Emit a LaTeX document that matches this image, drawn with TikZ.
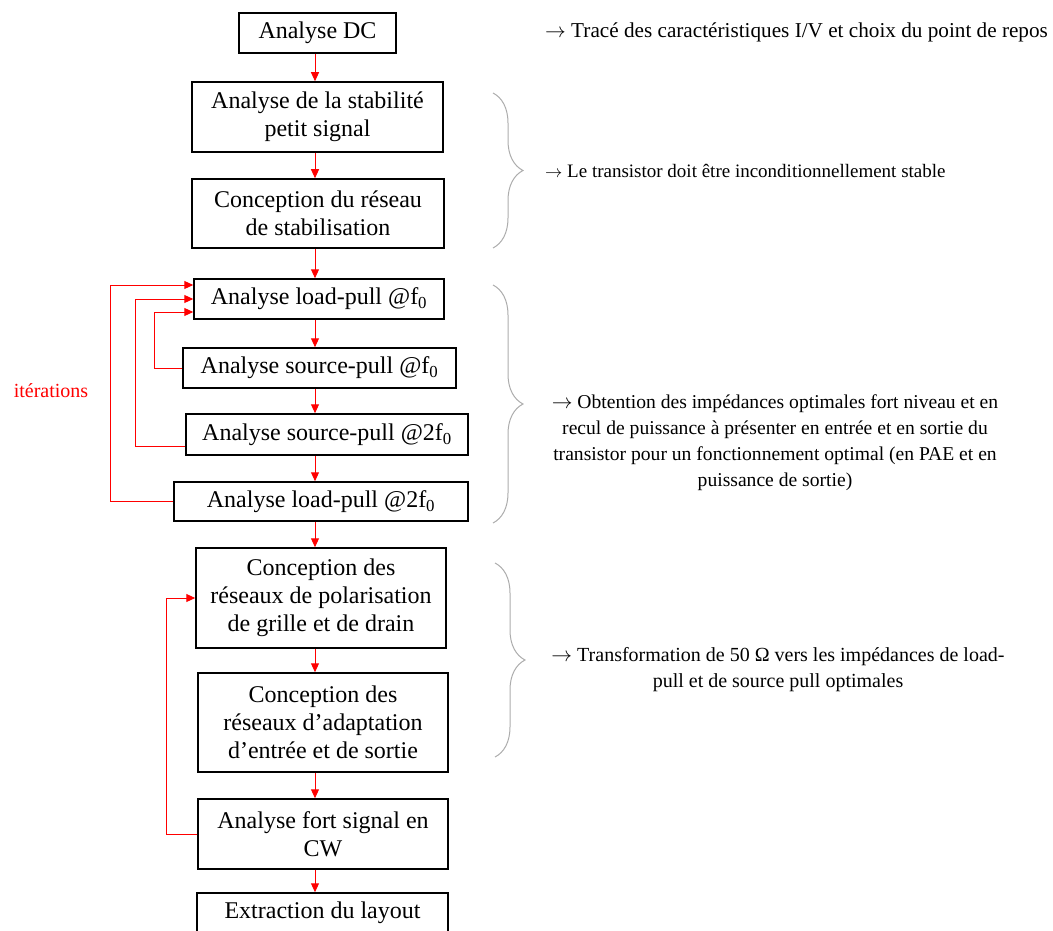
\documentclass[tikz,border=0pt]{standalone}
\usepackage{fontspec}
\setmainfont{Liberation Serif}
\usetikzlibrary{arrows.meta,decorations.pathreplacing}

\begin{document}
\begin{tikzpicture}[x=1pt,y=-1pt]
        \tikzset{box/.style = {draw, line width=1.5pt, align=center, inner sep=0pt, font=\fontsize{24}{28}\selectfont}}
        \tikzset{edge/.style = {-{Triangle[length=9pt,width=8pt]}, red, line width=1pt}}
        \tikzset{note/.style = {font=\fontsize{19}{26}\selectfont, align=center, inner sep=0pt}}
        \tikzset{bracket/.style = {decorate, decoration={brace, amplitude=30pt}, gray!65, line width=1pt}}
        \path[use as bounding box, clip] (0,0) rectangle (1053,931);
        \coordinate (spine) at (315,0);
        % steps
        \node[box, minimum width=157pt, minimum height=40pt] (dc)     at (317.5,33)  {Analyse DC};
        \node[box, minimum width=251pt, minimum height=70pt] (stab)   at (317.5,117) {Analyse de la stabilité\\petit signal};
        \node[box, minimum width=252pt, minimum height=69pt] (reseau) at (318,213.5) {Conception du réseau\\de stabilisation};
        \node[box, minimum width=250pt, minimum height=40pt] (lpf)    at (319,299)   {Analyse load-pull @f\textsubscript{0}};
        \node[box, minimum width=273pt, minimum height=40pt] (spf)    at (319.5,368) {Analyse source-pull @f\textsubscript{0}};
        \node[box, minimum width=282pt, minimum height=41pt] (sptf)   at (327,434.5) {Analyse source-pull @2f\textsubscript{0}};
        \node[box, minimum width=294pt, minimum height=39pt] (lptf)   at (321,501.5) {Analyse load-pull @2f\textsubscript{0}};
        \node[box, minimum width=250pt, minimum height=100pt] (polar) at (321,598)   {Conception des\\réseaux de polarisation\\de grille et de drain};
        \node[box, minimum width=250pt, minimum height=99pt] (adapt)  at (323,722.5) {Conception des\\réseaux d’adaptation\\d’entrée et de sortie};
        \node[box, minimum width=250pt, minimum height=70pt] (cw)     at (323,834)   {Analyse fort signal en\\CW};
        \node[box, minimum width=251pt, minimum height=40pt] (layout) at (322.5,913) {Extraction du layout};
        % notes
        \node[note, anchor=west, font=\fontsize{21.2}{26}\selectfont] (n1) at (545,32) {$\rightarrow$ Tracé des caractéristiques I/V et choix du point de repos};
        \node[note, anchor=west] (n2) at (545,171) {$\rightarrow$ Le transistor doit être inconditionnellement stable};
        \node[note, font=\fontsize{19.6}{26}\selectfont] (n3) at (775,443) {$\rightarrow$ Obtention des impédances optimales fort niveau et en\\recul de puissance à présenter en entrée et en sortie du\\transistor pour un fonctionnement optimal (en PAE et en\\puissance de sortie)};
        \node[note, font=\fontsize{20}{26}\selectfont] (n4) at (778,670) {$\rightarrow$ Transformation de 50 Ω vers les impédances de load-\\pull et de source pull optimales};
        \node[note, red, font=\fontsize{20}{24}\selectfont] (iter) at (51,391) {itérations};
        % edges
        \foreach \a/\b in {dc/stab, stab/reseau, reseau/lpf, lpf/spf, spf/sptf, sptf/lptf, lptf/polar, polar/adapt, adapt/cw, cw/layout}
            \draw[edge] (\a.south -| spine) -- (\b.north -| spine);
        \draw[edge] (lptf.west) -- ++(-63,0) |- ([yshift=14pt]lpf.west);
        \draw[edge] ([yshift=-11.5pt]sptf.west) -- ++(-50,0) |- (lpf.west);
        \draw[edge] (spf.west) -- ++(-28,0) |- ([yshift=-13pt]lpf.west);
        \draw[edge] (cw.west) -- ++(-31,0) |- (polar.west);
        % braces
        \draw[bracket] (493,93) -- (493,248);
        \draw[bracket] (493,285) -- (493,523);
        \draw[bracket] (495,563) -- (495,757);
\end{tikzpicture}
\end{document}
